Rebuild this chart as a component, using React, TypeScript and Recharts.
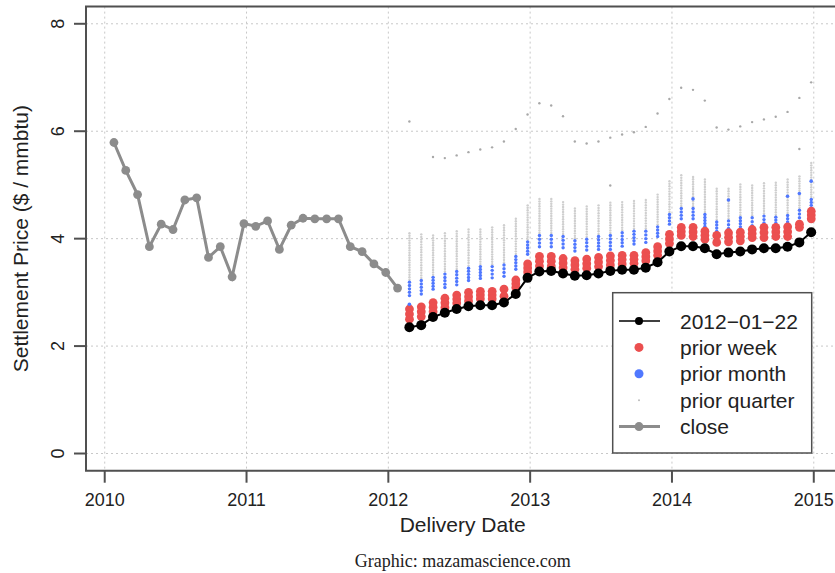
import React from 'react'
import {
  ComposedChart, XAxis, YAxis, CartesianGrid, Line, Bar, ReferenceArea
} from 'recharts'

const SANS = '"Liberation Sans", Arial, Helvetica, sans-serif'
const SERIF = '"Liberation Serif", "Times New Roman", serif'

const RED = '#eb4f4f'
const BLUE = '#5078ff'
const SPECK = '#cfcfcf'
const CLOSE = '#8c8c8c'
const FRAME = '#505050'

// forward curve delivery months
const curveMonths = [
  '2012-02', '2012-03', '2012-04', '2012-05', '2012-06', '2012-07', '2012-08', '2012-09', '2012-10', '2012-11', '2012-12',
  '2013-01', '2013-02', '2013-03', '2013-04', '2013-05', '2013-06', '2013-07', '2013-08', '2013-09', '2013-10', '2013-11', '2013-12',
  '2014-01', '2014-02', '2014-03', '2014-04', '2014-05', '2014-06', '2014-07', '2014-08', '2014-09', '2014-10', '2014-11', '2014-12',
]

const curveLatest = [
  2.35, 2.39, 2.54, 2.62, 2.69, 2.74, 2.76, 2.76, 2.81, 2.97, 3.27,
  3.39, 3.40, 3.35, 3.31, 3.32, 3.35, 3.40, 3.42, 3.42, 3.46, 3.56, 3.76,
  3.86, 3.86, 3.82, 3.71, 3.74, 3.76, 3.80, 3.82, 3.82, 3.85, 3.93, 4.12,
]

const weekHigh = [
  2.69, 2.73, 2.81, 2.89, 2.95, 3.00, 3.02, 3.02, 3.06, 3.23, 3.53,
  3.67, 3.67, 3.63, 3.59, 3.62, 3.65, 3.68, 3.69, 3.69, 3.74, 3.85, 4.08,
  4.21, 4.21, 4.14, 4.06, 4.11, 4.12, 4.17, 4.21, 4.21, 4.22, 4.27, 4.51,
]
const weekLow = [
  2.50, 2.55, 2.64, 2.72, 2.80, 2.84, 2.88, 2.88, 2.93, 3.09, 3.38,
  3.49, 3.49, 3.46, 3.43, 3.45, 3.48, 3.51, 3.53, 3.54, 3.59, 3.69, 3.91,
  4.06, 4.04, 3.99, 3.93, 3.94, 3.96, 4.02, 4.02, 4.04, 4.04, 4.21, 4.37,
]

const monthHigh = [
  3.19, 3.22, 3.28, 3.34, 3.39, 3.45, 3.48, 3.48, 3.51, 3.67, 3.94,
  4.06, 4.06, 4.04, 3.96, 3.99, 4.04, 4.06, 4.11, 4.14, 4.14, 4.22, 4.45,
  4.56, 4.56, 4.45, 4.31, 4.33, 4.39, 4.39, 4.42, 4.40, 4.43, 4.53, 4.73,
]
const monthLow = [
  2.94, 2.97, 3.06, 3.09, 3.14, 3.22, 3.26, 3.27, 3.30, 3.43, 3.71,
  3.85, 3.85, 3.83, 3.77, 3.79, 3.80, 3.80, 3.86, 3.90, 3.93, 4.04, 4.27,
  4.37, 4.37, 4.17, 4.14, 4.19, 4.22, 4.24, 4.29, 4.29, 4.31, 4.39, 4.51,
]

const quarterHigh = [
  4.10, 4.08, 4.06, 4.10, 4.14, 4.17, 4.17, 4.21, 4.25, 4.37, 4.62,
  4.74, 4.74, 4.68, 4.56, 4.60, 4.62, 4.67, 4.68, 4.70, 4.72, 4.82, 5.07,
  5.18, 5.15, 5.10, 4.93, 4.93, 5.01, 4.99, 5.03, 5.04, 5.10, 5.16, 5.41,
]
// the oldest curve of the quarter sits well above the rest
const quarterOldest = [
  6.18, null, 5.52, 5.50, 5.55, 5.61, 5.66, 5.70, 5.81, 6.04, 6.31,
  6.52, 6.48, 6.28, 5.81, 5.77, 5.81, 5.88, 5.94, 5.98, 6.08, 6.33, 6.60,
  6.81, 6.77, 6.57, 6.07, 6.03, 6.09, 6.17, 6.22, 6.27, 6.36, 6.62, 6.91,
]

// single settlements that fall outside their monthly band
const monthStrayMonths = ['2012-02', '2014-02', '2014-05', '2014-10', '2014-11', '2014-12']
const monthStrayValues = [2.78, 4.74, 4.72, 4.79, 4.84, 5.07]
const quarterStrayMonths = ['2013-07', '2014-11']
const quarterStrayValues = [4.99, 5.67]

const closeMonths = [
  '2010-01', '2010-02', '2010-03', '2010-04', '2010-05', '2010-06', '2010-07', '2010-08', '2010-09', '2010-10', '2010-11', '2010-12',
  '2011-01', '2011-02', '2011-03', '2011-04', '2011-05', '2011-06', '2011-07', '2011-08', '2011-09', '2011-10', '2011-11', '2011-12',
  '2012-01',
]
const closePrices = [
  5.79, 5.27, 4.82, 3.85, 4.27, 4.17, 4.72, 4.76, 3.65, 3.85, 3.29, 4.28,
  4.23, 4.33, 3.80, 4.25, 4.38, 4.37, 4.37, 4.37, 3.85, 3.76, 3.53, 3.37,
  3.08,
]

const xTicks = [2010, 2011, 2012, 2013, 2014, 2015]
const yTicks = [0, 2, 4, 6, 8]

const X_MIN = 2009.868
const X_MAX = 2015.18
const Y_MIN = -0.32
const Y_MAX = 8.32

// contracts are dated near the 25th of the month
const toYear = (m: string) => {
  const [y, mo] = m.split('-').map(Number)
  return y + (mo - 1) / 12 + 0.065
}

const curveData = curveMonths.map((m, i) => ({
  x: toYear(m),
  latest: curveLatest[i],
  weekHigh: weekHigh[i],
  weekLow: weekLow[i],
  monthHigh: monthHigh[i],
  monthLow: monthLow[i],
  quarterHigh: quarterHigh[i],
  oldest: quarterOldest[i],
}))
const closeData = closeMonths.map((m, i) => ({ x: toYear(m), close: closePrices[i] }))
const monthStrays = monthStrayMonths.map((m, i) => ({ x: toYear(m), y: monthStrayValues[i] }))
const quarterStrays = quarterStrayMonths.map((m, i) => ({ x: toYear(m), y: quarterStrayValues[i] }))

// draws a bar's range as a column of stacked dots
const dotColumn = (r: number, step: number, color: string) => (props: any) => {
  const { x, y, width, height } = props
  if (x == null || y == null || !isFinite(y)) return <g />
  const top = Math.min(y, y + height)
  const h = Math.abs(height)
  const cx = x + width / 2
  const n = Math.max(1, Math.round(h / step))
  const dots = []
  for (let i = 0; i <= n; i++) {
    dots.push(<circle key={i} cx={cx} cy={top + (h * i) / n} r={r} fill={color} />)
  }
  return <g>{dots}</g>
}

const speck = (r: number, color: string) => (props: any) => {
  const { cx, cy, value } = props
  if (value == null || cy == null) return <g key={props.key} />
  return <circle key={props.key} cx={cx} cy={cy} r={r} fill={color} />
}

const YTick = ({ x, y, payload }: any) => (
  <text
    x={x} y={y}
    transform={`rotate(-90 ${x} ${y})`}
    textAnchor="middle"
    fontFamily={SANS} fontSize={18} fill="#222"
  >
    {payload.value}
  </text>
)

const legendRows = [
  { label: '2012\u221201\u221222', kind: 'line', color: '#000', r: 4 },
  { label: 'prior week', kind: 'dot', color: RED, r: 4.5 },
  { label: 'prior month', kind: 'dot', color: BLUE, r: 4.5 },
  { label: 'prior quarter', kind: 'dot', color: '#bbb', r: 1 },
  { label: 'close', kind: 'line', color: CLOSE, r: 4.5 },
]

const Overlay = () => (
  <svg width={835} height={573} style={{ position: 'absolute', left: 0, top: 0, pointerEvents: 'none' }}>
    <text
      x={28} y={238.6} transform="rotate(-90 28 238.6)" textAnchor="middle"
      fontFamily={SANS} fontSize={21} fill="#222"
    >
      Settlement Price ($ / mmbtu)
    </text>
    <text x={462.7} y={532} textAnchor="middle" fontFamily={SANS} fontSize={21} fill="#222">
      Delivery Date
    </text>
    <text x={462.7} y={567} textAnchor="middle" fontFamily={SERIF} fontSize={18} fill="#222">
      Graphic: mazamascience.com
    </text>
    <rect x={612.7} y={292.7} width={199} height={160.3} fill="#fff" stroke={FRAME} strokeWidth={1.5} />
    {legendRows.map((row, i) => {
      const cy = 321 + i * 26.4
      return (
        <g key={row.label}>
          {row.kind === 'line' && (
            <line x1={619} x2={660} y1={cy} y2={cy} stroke={row.color} strokeWidth={row.color === CLOSE ? 3 : 1.5} />
          )}
          <circle cx={639} cy={cy} r={row.r} fill={row.color} />
          <text x={680} y={cy + 7.5} fontFamily={SANS} fontSize={21} fill="#222">{row.label}</text>
        </g>
      )
    })}
  </svg>
)

const hiddenAxis = (id: string) => (
  <XAxis xAxisId={id} dataKey="x" type="number" domain={[X_MIN, X_MAX]} allowDataOverflow hide height={0} />
)

export default function App() {
  return (
    <div style={{ position: 'absolute', left: 0, top: 0, width: 835, height: 573, overflow: 'hidden', background: '#fff' }}>
      <ComposedChart
        width={860}
        height={573}
        data={curveData}
        margin={{ top: 6.6, right: 20.7, bottom: 62.3, left: 26 }}
      >
        <CartesianGrid xAxisId="x" stroke="#c8c8c8" strokeDasharray="2 3" />
        <XAxis
          xAxisId="x"
          dataKey="x"
          type="number"
          domain={[X_MIN, X_MAX]}
          ticks={xTicks}
          allowDataOverflow
          height={40}
          axisLine={false}
          tickSize={12}
          tickMargin={11}
          tickLine={{ stroke: FRAME, strokeWidth: 2 }}
          tick={{ fill: '#222', fontSize: 18, fontFamily: SANS }}
        />
        {hiddenAxis('quarter')}
        {hiddenAxis('month')}
        {hiddenAxis('week')}
        <YAxis
          type="number"
          domain={[Y_MIN, Y_MAX]}
          ticks={yTicks}
          allowDataOverflow
          width={60}
          axisLine={false}
          tickSize={12}
          tickMargin={10}
          tickLine={{ stroke: FRAME, strokeWidth: 2 }}
          tick={<YTick />}
        />
        <ReferenceArea
          xAxisId="x" x1={X_MIN} x2={X_MAX} y1={Y_MIN} y2={Y_MAX}
          fill="none" fillOpacity={0} stroke={FRAME} strokeWidth={2} ifOverflow="visible"
        />
        <Bar
          xAxisId="quarter"
          dataKey={(d: any) => [d.monthHigh, d.quarterHigh]}
          barSize={4}
          shape={dotColumn(1.2, 2.5, SPECK)}
          isAnimationActive={false}
        />
        <Bar
          xAxisId="month"
          dataKey={(d: any) => [d.monthLow, d.monthHigh]}
          barSize={4}
          shape={dotColumn(1.7, 3.3, BLUE)}
          isAnimationActive={false}
        />
        <Bar
          xAxisId="week"
          dataKey={(d: any) => [d.weekLow, d.weekHigh]}
          barSize={8}
          shape={dotColumn(4.4, 5, RED)}
          isAnimationActive={false}
        />
        <Line
          xAxisId="x"
          dataKey="oldest"
          stroke="none"
          dot={speck(1.2, '#a8a8a8')}
          activeDot={false}
          isAnimationActive={false}
        />
        <Line
          xAxisId="x"
          data={quarterStrays}
          dataKey="y"
          stroke="none"
          dot={speck(1.2, '#a8a8a8')}
          activeDot={false}
          isAnimationActive={false}
        />
        <Line
          xAxisId="x"
          data={monthStrays}
          dataKey="y"
          stroke="none"
          dot={speck(1.8, BLUE)}
          activeDot={false}
          isAnimationActive={false}
        />
        <Line
          xAxisId="x"
          dataKey="latest"
          stroke="#000"
          strokeWidth={2}
          dot={{ r: 5, fill: '#000', stroke: 'none' }}
          activeDot={false}
          isAnimationActive={false}
        />
        <Line
          xAxisId="x"
          data={closeData}
          dataKey="close"
          stroke={CLOSE}
          strokeWidth={3}
          dot={{ r: 4.4, fill: CLOSE, stroke: 'none' }}
          activeDot={false}
          isAnimationActive={false}
        />
      </ComposedChart>
      <Overlay />
    </div>
  )
}
